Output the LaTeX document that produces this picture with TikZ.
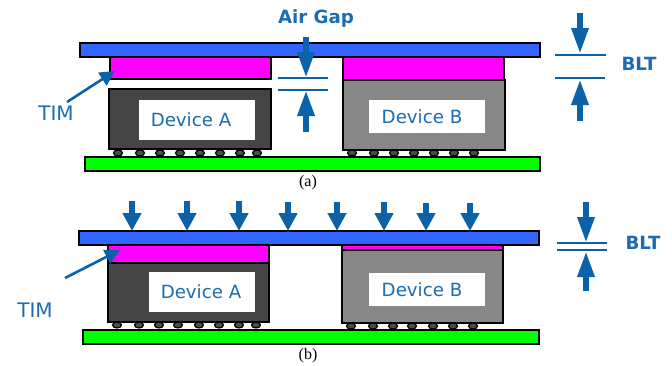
\documentclass[tikz,border=0pt]{standalone}
\usepackage{fontspec}
\setmainfont{DejaVu Sans}
\newfontfamily\capfont{Liberation Serif}
\usetikzlibrary{arrows.meta, positioning, shapes.geometric}
\definecolor{lidblue}{HTML}{3366FF}
\definecolor{inkblue}{HTML}{0B62A8}
\definecolor{txtblue}{HTML}{1B6CB0}
\definecolor{timpink}{HTML}{FF00FF}
\definecolor{pcbgreen}{HTML}{00FF00}
\tikzset{
    every node/.style={inner sep=0pt, outer sep=0pt},
    plate/.style={draw=black, line width=1.6pt, anchor=north west}, % every filled block
    lid/.style={plate, fill=lidblue, minimum height=14pt},
    board/.style={plate, fill=pcbgreen, minimum height=14pt},
    tim/.style={plate, fill=timpink},
    devdark/.style={plate, fill=black!73},
    devgrey/.style={plate, fill=black!47},
    namebox/.style={fill=white, anchor=north west, text=txtblue, font=\fontsize{18.2}{18.2}\selectfont},
    ball/.style={ellipse, draw=black, line width=1.2pt, fill=black!70, minimum width=9pt, minimum height=6pt},
    tag/.style={text=txtblue, font=\fontsize{20}{20}\selectfont},
    boldtag/.style={text=txtblue, font=\fontsize{18.2}{18.2}\selectfont\bfseries},
    caption/.style={font=\capfont\fontsize{16}{16}\selectfont},
    fatarrow/.style={draw=inkblue, line width=6pt, -{Triangle[length=26pt, width=16pt]}},
    force/.style={draw=inkblue, line width=6pt, -{Triangle[length=18pt, width=18pt]}},
    thinarrow/.style={draw=inkblue, line width=2.6pt, -{Triangle[length=15pt, width=15pt]}},
    gapline/.style={draw=inkblue, line width=1.8pt},
}
\begin{document}
\begin{tikzpicture}[x=1pt, y=-1pt]
    \useasboundingbox (0,0) rectangle (672,365);

    % (a) before the lid is pressed
    \node[tim, minimum width=161pt, minimum height=22pt] (timA) at (110,57) {};
    \node[tim, minimum width=161pt, minimum height=23pt] (timB) at (343,57) {};
    \node[lid, minimum width=460pt] (lidT) at (80,43) {};
    \node[devdark, minimum width=162pt, minimum height=60pt] (devA) at (109,89) {};
    \node[devgrey, minimum width=162pt, minimum height=70pt] (devB) at (343,80) {};
    \node[namebox, minimum width=116pt, minimum height=40pt] (nameA) at (139,100) {\raisebox{1.5pt}{Device A}\kern12pt};
    \node[namebox, minimum width=116pt, minimum height=33pt] (nameB) at (369,100) {Device B\kern10pt};
    \node[board, minimum width=455pt] (pcbT) at (85,157) {};
    \foreach \x in {118,140,160,180,200,220,240,257}
        \node[ball] (ballA\x) at (\x,153) {};
    \foreach \x in {352,374,394,414,434,454,474}
        \node[ball] (ballB\x) at (\x,153) {};

    \node[boldtag] (airgap) at (316,18) {Air Gap};
    \node[boldtag] (bltT) at (639,64) {BLT};
    \node[tag] (timT) at (56,113) {TIM};
    \node[caption] (capT) at (308,183) {(a)};

    \coordinate (gapL1) at (278,78);
    \coordinate (gapR1) at (328,78);
    \coordinate (gapL2) at (278,90);
    \coordinate (gapR2) at (328,90);
    \draw[gapline] (gapL1) -- (gapR1);
    \draw[gapline] (gapL2) -- (gapR2);
    \coordinate (gapS1) at (306,37);
    \coordinate (gapE1) at (306,78);
    \coordinate (gapS2) at (306,132);
    \coordinate (gapE2) at (306,90);
    \draw[fatarrow] (gapS1) -- (gapE1);
    \draw[fatarrow] (gapS2) -- (gapE2);

    \coordinate (bltL1) at (555,55);
    \coordinate (bltR1) at (606,55);
    \coordinate (bltL2) at (555,78);
    \coordinate (bltR2) at (605,78);
    \draw[gapline] (bltL1) -- (bltR1);
    \draw[gapline] (bltL2) -- (bltR2);
    \coordinate (bltS1) at (580,13);
    \coordinate (bltE1) at (580,54);
    \coordinate (bltS2) at (580,121);
    \coordinate (bltE2) at (580,79);
    \draw[fatarrow] (bltS1) -- (bltE1);
    \draw[fatarrow] (bltS2) -- (bltE2);

    \coordinate (timS1) at (67,102);
    \coordinate (timE1) at (115,71);
    \draw[thinarrow] (timS1) -- (timE1);

    % (b) after the lid is pressed
    \node[tim, minimum width=161pt, minimum height=18pt] (timC) at (108,245) {};
    \node[tim, minimum width=161pt, minimum height=6pt] (timD) at (342,245) {};
    \node[lid, minimum width=460pt] (lidU) at (79,231) {};
    \node[devdark, minimum width=161pt, minimum height=59pt] (devC) at (108,263) {};
    \node[devgrey, minimum width=161pt, minimum height=73pt] (devD) at (342,250) {};
    \node[namebox, minimum width=106pt, minimum height=40pt] (nameC) at (149,272) {\raisebox{1.5pt}{Device A}\kern2pt};
    \node[namebox, minimum width=116pt, minimum height=33pt] (nameD) at (369,273) {Device B\kern10pt};
    \node[board, minimum width=456pt] (pcbU) at (83,330) {};
    \foreach \x in {117,139,159,178,199,219,239,256}
        \node[ball] (ballC\x) at (\x,325) {};
    \foreach \x in {351,373,393,412,433,453,473}
        \node[ball] (ballD\x) at (\x,326) {};

    \node[boldtag] (bltU) at (643,243) {BLT};
    \node[tag] (timU) at (35,310) {TIM};
    \node[caption] (capU) at (308,356) {(b)};

    \foreach \x/\y in {132/201,187/201,239/201,288/202,337/202,384/202,426/203,470/203} {
        \coordinate (pushS\x) at (\x,\y);
        \coordinate (pushE\x) at (\x,231);
        \draw[force] (pushS\x) -- (pushE\x);
    }

    \coordinate (bltL3) at (557,243);
    \coordinate (bltR3) at (607,243);
    \coordinate (bltL4) at (557,250);
    \coordinate (bltR4) at (607,250);
    \draw[gapline] (bltL3) -- (bltR3);
    \draw[gapline] (bltL4) -- (bltR4);
    \coordinate (bltS3) at (586,202);
    \coordinate (bltE3) at (586,243);
    \coordinate (bltS4) at (586,291);
    \coordinate (bltE4) at (586,251);
    \draw[fatarrow] (bltS3) -- (bltE3);
    \draw[fatarrow] (bltS4) -- (bltE4);

    \coordinate (timS2) at (65,278);
    \coordinate (timE2) at (120,250);
    \draw[thinarrow] (timS2) -- (timE2);
\end{tikzpicture}
\end{document}
